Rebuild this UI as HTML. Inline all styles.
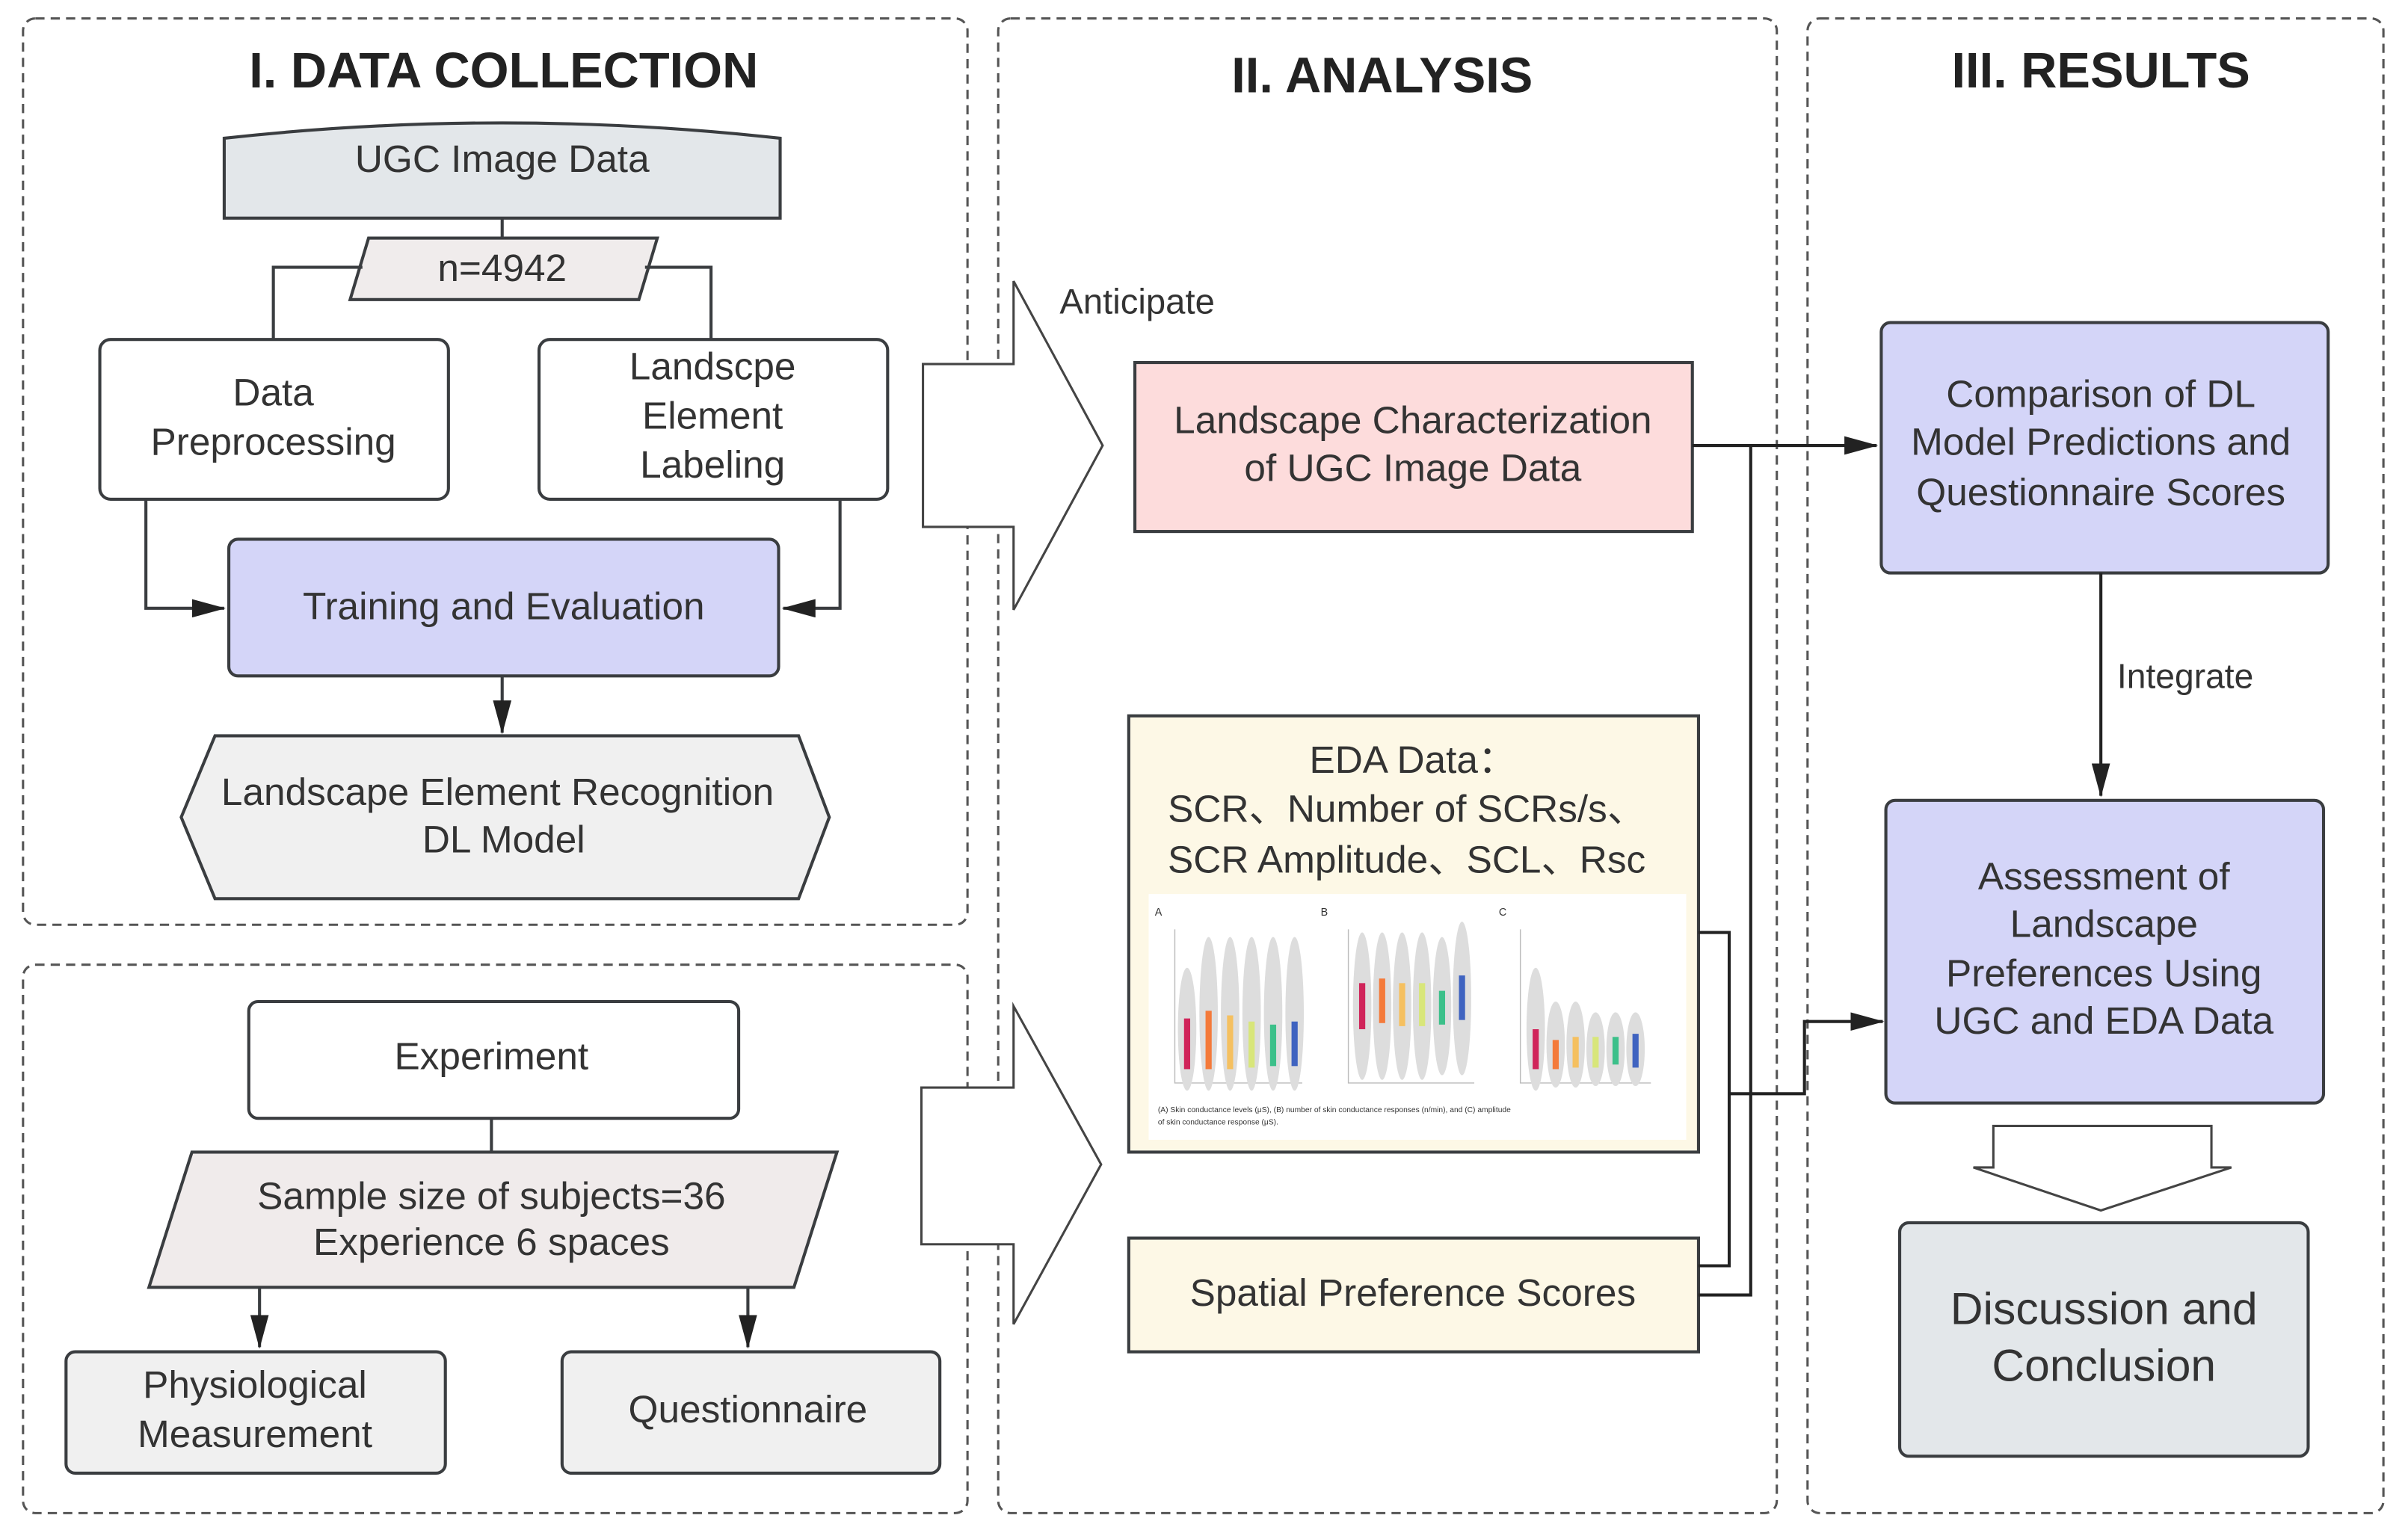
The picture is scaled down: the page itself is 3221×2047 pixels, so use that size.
<!DOCTYPE html>
<html><head><meta charset="utf-8"><style>
html,body{margin:0;padding:0;background:#fff;}
svg{display:block;}
text{font-family:"Liberation Sans","Noto Sans CJK SC",sans-serif;fill:#333;}
</style></head><body>
<svg width="3221" height="2047" viewBox="0 0 1568 996" preserveAspectRatio="none" xmlns="http://www.w3.org/2000/svg">
<defs>
<marker id="ahb" markerWidth="22" markerHeight="12" refX="21" refY="6" orient="auto" markerUnits="userSpaceOnUse" viewBox="0 0 22 12">
<path d="M0,0 L22,6 L0,12 z" fill="#222"/></marker>
</defs>
<rect width="1568" height="996" fill="#fff"/>
<g fill="none" stroke="#555" stroke-width="1.5" stroke-dasharray="6,4">
<rect x="15" y="12" width="615" height="590" rx="8"/>
<rect x="15" y="628" width="615" height="357" rx="8"/>
<rect x="650" y="12" width="507" height="973" rx="8"/>
<rect x="1177" y="12" width="375" height="973" rx="8"/>
</g>
<text x="328" y="57" font-size="32.5" font-weight="bold" text-anchor="middle" style="fill:#222">I. DATA COLLECTION</text>
<text x="900" y="60" font-size="32.5" font-weight="bold" text-anchor="middle" style="fill:#222">II. ANALYSIS</text>
<text x="1368" y="57" font-size="32.5" font-weight="bold" text-anchor="middle" style="fill:#222">III. RESULTS</text>

<g stroke="#3a3d40" stroke-width="2">
<path d="M146,90 Q327,70 508,90 L508,142 L146,142 Z" fill="#e3e7ea"/>
<line x1="327" y1="142" x2="327" y2="155"/>
<polygon points="240,155 428,155 416,195 228,195" fill="#f0ecec"/>
<polyline points="236,174 178,174 178,221" fill="none"/>
<polyline points="420,174 463,174 463,221" fill="none"/>
<rect x="65" y="221" width="227" height="104" rx="7" fill="#fff"/>
<rect x="351" y="221" width="227" height="104" rx="7" fill="#fff"/>
<polyline points="95,325 95,396 146,396" fill="none" marker-end="url(#ahb)"/>
<polyline points="547,325 547,396 510,396" fill="none" marker-end="url(#ahb)"/>
<rect x="149" y="351" width="358" height="89" rx="6" fill="#d4d5f8"/>
<line x1="327" y1="440" x2="327" y2="477" marker-end="url(#ahb)"/>
<polygon points="140,479 520,479 540,532 520,585 140,585 118,532" fill="#f0f0f0"/>

<rect x="162" y="652" width="319" height="76" rx="6" fill="#fff"/>
<line x1="320" y1="728" x2="320" y2="750"/>
<polygon points="125,750 545,750 517,838 97,838" fill="#f0ebeb"/>
<line x1="169" y1="838" x2="169" y2="877" marker-end="url(#ahb)"/>
<line x1="487" y1="838" x2="487" y2="877" marker-end="url(#ahb)"/>
<rect x="43" y="880" width="247" height="79" rx="6" fill="#f0f0f0"/>
<rect x="366" y="880" width="246" height="79" rx="6" fill="#f0f0f0"/>
</g>
<g stroke="#444" stroke-width="1.5" fill="#fff">
<polygon points="601,237 660,237 660,183 718,290 660,397 660,343 601,343"/>
<polygon points="600,708 660,708 660,655 717,758 660,862 660,810 600,810"/>
<polygon points="1298,733 1440,733 1440,760 1453,760 1368,788 1285,760 1298,760"/>
</g>
<text x="327" y="112" font-size="25" text-anchor="middle">UGC Image Data</text>
<text x="327" y="183" font-size="25" text-anchor="middle">n=4942</text>
<text x="178" y="264" font-size="25" text-anchor="middle">Data</text>
<text x="178" y="296" font-size="25" text-anchor="middle">Preprocessing</text>
<text x="464" y="247" font-size="25" text-anchor="middle">Landscpe</text>
<text x="464" y="279" font-size="25" text-anchor="middle">Element</text>
<text x="464" y="311" font-size="25" text-anchor="middle">Labeling</text>
<text x="328" y="403" font-size="25" text-anchor="middle">Training and Evaluation</text>
<text x="324" y="524" font-size="25" text-anchor="middle">Landscape Element Recognition</text>
<text x="328" y="555" font-size="25" text-anchor="middle">DL Model</text>
<text x="320" y="696" font-size="25" text-anchor="middle">Experiment</text>
<text x="320" y="787" font-size="25" text-anchor="middle">Sample size of subjects=36</text>
<text x="320" y="817" font-size="25" text-anchor="middle">Experience  6 spaces</text>
<text x="166" y="910" font-size="25" text-anchor="middle">Physiological</text>
<text x="166" y="942" font-size="25" text-anchor="middle">Measurement</text>
<text x="487" y="926" font-size="25" text-anchor="middle">Questionnaire</text>
<text x="690" y="204" font-size="23">Anticipate</text>

<g stroke="#3a3d40" stroke-width="2">
<rect x="739" y="236" width="363" height="110" fill="#fddcdc"/>
<rect x="735" y="466" width="371" height="284" fill="#fdf8e6"/>
<rect x="735" y="806" width="371" height="74" fill="#fdf8e6"/>
<rect x="1225" y="210" width="291" height="163" rx="6" fill="#d4d5f8"/>
<rect x="1228" y="521" width="285" height="197" rx="6" fill="#d4d5f8"/>
<rect x="1237" y="796" width="266" height="152" rx="6" fill="#e3e7ea"/>
</g>
<rect x="748" y="582" width="350" height="160" fill="#fff"/>
<g fill="#555">
<text x="752" y="596" font-size="7">A</text><text x="860" y="596" font-size="7">B</text><text x="976" y="596" font-size="7">C</text>
<text x="754" y="724" font-size="5">(A) Skin conductance levels (μS), (B) number of skin conductance responses (n/min), and (C) amplitude</text>
<text x="754" y="732" font-size="5">of skin conductance response (μS).</text>
</g>
<g stroke="#bbb" stroke-width="0.7" fill="none">
<polyline points="765,605 765,705 848,705"/>
<polyline points="878,605 878,705 960,705"/>
<polyline points="990,605 990,705 1075,705"/>
</g>
<g fill="#ddd">
<ellipse cx="773" cy="670" rx="6" ry="40"/><ellipse cx="787" cy="660" rx="6" ry="50"/><ellipse cx="801" cy="660" rx="6" ry="50"/><ellipse cx="815" cy="660" rx="6" ry="50"/><ellipse cx="829" cy="660" rx="6" ry="50"/><ellipse cx="843" cy="660" rx="6" ry="50"/>
<ellipse cx="887" cy="655" rx="6" ry="48"/><ellipse cx="900" cy="655" rx="6" ry="48"/><ellipse cx="913" cy="655" rx="6" ry="48"/><ellipse cx="926" cy="655" rx="6" ry="48"/><ellipse cx="939" cy="655" rx="6" ry="45"/><ellipse cx="952" cy="650" rx="6" ry="50"/>
<ellipse cx="1000" cy="670" rx="6" ry="40"/><ellipse cx="1013" cy="680" rx="6" ry="28"/><ellipse cx="1026" cy="680" rx="6" ry="28"/><ellipse cx="1039" cy="683" rx="6" ry="24"/><ellipse cx="1052" cy="683" rx="6" ry="24"/><ellipse cx="1065" cy="683" rx="6" ry="24"/>
</g>
<g>
<rect x="771" y="663" width="4" height="33" fill="#d0245a"/><rect x="785" y="658" width="4" height="38" fill="#f47a3a"/><rect x="799" y="661" width="4" height="35" fill="#f5c060"/><rect x="813" y="665" width="4" height="30" fill="#d8e67a"/><rect x="827" y="667" width="4" height="27" fill="#3cc08a"/><rect x="841" y="665" width="4" height="29" fill="#3f63c0"/>
<rect x="885" y="640" width="4" height="30" fill="#d0245a"/><rect x="898" y="637" width="4" height="29" fill="#f47a3a"/><rect x="911" y="640" width="4" height="28" fill="#f5c060"/><rect x="924" y="640" width="4" height="28" fill="#d8e67a"/><rect x="937" y="645" width="4" height="22" fill="#3cc08a"/><rect x="950" y="635" width="4" height="29" fill="#3f63c0"/>
<rect x="998" y="670" width="4" height="26" fill="#d0245a"/><rect x="1011" y="677" width="4" height="19" fill="#f47a3a"/><rect x="1024" y="675" width="4" height="20" fill="#f5c060"/><rect x="1037" y="675" width="4" height="20" fill="#d8e67a"/><rect x="1050" y="675" width="4" height="18" fill="#3cc08a"/><rect x="1063" y="673" width="4" height="22" fill="#3f63c0"/>
</g>

<g stroke="#222" stroke-width="2" fill="none">
<line x1="1102" y1="290" x2="1222" y2="290" marker-end="url(#ahb)"/>
<polyline points="1140,290 1140,843 1106,843"/>
<polyline points="1106,607 1126,607 1126,824 1106,824"/>
<polyline points="1126,712 1175,712 1175,665 1226,665" marker-end="url(#ahb)"/>
<line x1="1368" y1="373" x2="1368" y2="518" marker-end="url(#ahb)"/>
</g>

<text x="920" y="282" font-size="25" text-anchor="middle">Landscape Characterization</text>
<text x="920" y="313" font-size="25" text-anchor="middle">of UGC Image Data</text>
<text x="920" y="503" font-size="25" text-anchor="middle">EDA Data：</text>
<text x="916" y="535" font-size="25" text-anchor="middle">SCR、Number of SCRs/s、</text>
<text x="916" y="568" font-size="25" text-anchor="middle">SCR Amplitude、SCL、Rsc</text>
<text x="920" y="850" font-size="25" text-anchor="middle">Spatial Preference Scores</text>
<text x="1368" y="265" font-size="25" text-anchor="middle">Comparison of DL</text>
<text x="1368" y="296" font-size="25" text-anchor="middle">Model Predictions and</text>
<text x="1368" y="329" font-size="25" text-anchor="middle">Questionnaire Scores</text>
<text x="1423" y="448" font-size="22.5" text-anchor="middle">Integrate</text>
<text x="1370" y="579" font-size="25" text-anchor="middle">Assessment of</text>
<text x="1370" y="610" font-size="25" text-anchor="middle">Landscape</text>
<text x="1370" y="642" font-size="25" text-anchor="middle">Preferences Using</text>
<text x="1370" y="673" font-size="25" text-anchor="middle">UGC and EDA Data</text>
<text x="1370" y="862" font-size="29.5" text-anchor="middle">Discussion and</text>
<text x="1370" y="899" font-size="29.5" text-anchor="middle">Conclusion</text>
</svg>
</body></html>
